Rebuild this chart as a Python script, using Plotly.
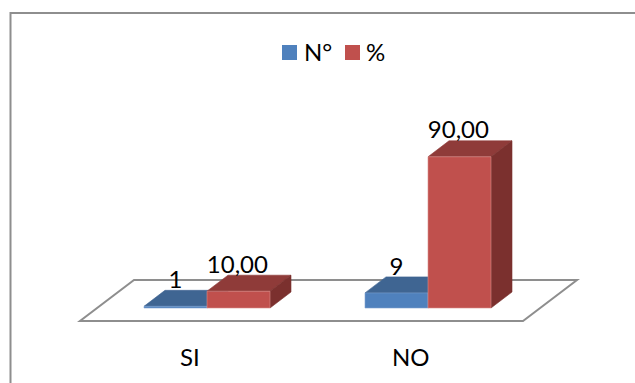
import plotly.graph_objects as go

categories = ["SI", "NO"]
count_values = [1, 9]
percent_values = [10.00, 90.00]
count_labels = ["1", "9"]
percent_labels = ["10,00", "90,00"]

WIDTH, HEIGHT = 635, 383
PX_PER_CATEGORY = 221.0   # horizontal distance between category groups
PX_PER_UNIT = 1.68        # vertical pixels per value unit
ORIGIN_X, ORIGIN_Y = 207.0, 308.0  # pixel position of category 0, value 0

BAR_W = 63 / PX_PER_CATEGORY
DEPTH_X = 21 / PX_PER_CATEGORY
DEPTH_Y = 16 / PX_PER_UNIT

x_range = [(0 - ORIGIN_X) / PX_PER_CATEGORY, (WIDTH - ORIGIN_X) / PX_PER_CATEGORY]
y_range = [(ORIGIN_Y - HEIGHT) / PX_PER_UNIT, ORIGIN_Y / PX_PER_UNIT]

FLOOR_L, FLOOR_R = (80 - ORIGIN_X) / PX_PER_CATEGORY, (523 - ORIGIN_X) / PX_PER_CATEGORY
FLOOR_FRONT = (308 - 321) / PX_PER_UNIT
FLOOR_DX, FLOOR_DY = 54 / PX_PER_CATEGORY, 41 / PX_PER_UNIT

BLUE = dict(front="#4F81BD", top="#3F6592", side="#355579", edge="#7FA3D0")
RED = dict(front="#C0504D", top="#8F3B39", side="#7B302E", edge="#D98F8C")
GREY = "#8E8E8E"
FONT = "Lato, Carlito, Calibri, sans-serif"
TEXT_SIZE = 24


def to_x(px):
    return (px - ORIGIN_X) / PX_PER_CATEGORY


def to_y(px):
    return (ORIGIN_Y - px) / PX_PER_UNIT


def face(xs, ys, color, edge):
    return go.Scatter(x=xs, y=ys, mode="lines", fill="toself", fillcolor=color,
                      line=dict(color=edge, width=0.6), hoverinfo="skip", showlegend=False)


def column(left, value, palette):
    """Front, top and side of one oblique box standing on the baseline."""
    right = left + BAR_W
    return [
        face([left, left + DEPTH_X, right + DEPTH_X, right, left],
             [value, value + DEPTH_Y, value + DEPTH_Y, value, value],
             palette["top"], palette["top"]),
        face([right, right + DEPTH_X, right + DEPTH_X, right, right],
             [0, DEPTH_Y, value + DEPTH_Y, value, 0],
             palette["side"], palette["side"]),
        face([left, right, right, left, left], [0, 0, value, value, 0],
             palette["front"], palette["edge"]),
    ]


fig = go.Figure()

# Boxes are added back to front so nearer faces cover farther ones.
for i in range(len(categories)):
    for tr in column(i - BAR_W, count_values[i], BLUE):
        fig.add_trace(tr)
    for tr in column(i, percent_values[i], RED):
        fig.add_trace(tr)

# Value labels sit a fixed distance above each box.
LABEL_LIFT = 14.5
fig.add_trace(go.Scatter(
    x=[i - BAR_W / 2 for i in range(len(categories))],
    y=[v + LABEL_LIFT for v in count_values],
    text=count_labels, mode="text", textposition="middle center",
    textfont=dict(family=FONT, size=TEXT_SIZE, color="#000000"),
    hoverinfo="skip", showlegend=False))
fig.add_trace(go.Scatter(
    x=[i + BAR_W / 2 - 0.005 for i in range(len(categories))],
    y=[v + LABEL_LIFT for v in percent_values],
    text=percent_labels, mode="text", textposition="middle center",
    textfont=dict(family=FONT, size=TEXT_SIZE, color="#000000"),
    hoverinfo="skip", showlegend=False))

# Key above the plot: one swatch and one caption per series.
for name, col, swatch_px, caption_px in (("N°", BLUE["front"], 289.5, 304),
                                         ("%", RED["front"], 352.5, 366)):
    fig.add_trace(go.Scatter(x=[to_x(swatch_px)], y=[to_y(52.5)], mode="markers", name=name,
                             marker=dict(symbol="square", size=15, color=col),
                             hoverinfo="skip", showlegend=False))
    fig.add_trace(go.Scatter(x=[to_x(caption_px)], y=[to_y(54.5)], mode="text", text=[name],
                             textposition="middle right",
                             textfont=dict(family=FONT, size=TEXT_SIZE, color="#000000"),
                             hoverinfo="skip", showlegend=False))

floor_x = [FLOOR_L, FLOOR_R, FLOOR_R + FLOOR_DX, FLOOR_L + FLOOR_DX, FLOOR_L]
floor_y = [FLOOR_FRONT, FLOOR_FRONT, FLOOR_FRONT + FLOOR_DY, FLOOR_FRONT + FLOOR_DY, FLOOR_FRONT]
floor_path = "M " + " L ".join(f"{a},{b}" for a, b in zip(floor_x, floor_y)) + " Z"

fig.update_layout(
    width=WIDTH, height=HEIGHT,
    margin=dict(l=0, r=0, t=0, b=0),
    paper_bgcolor="#FFFFFF", plot_bgcolor="#FFFFFF",
    font=dict(family=FONT, size=TEXT_SIZE, color="#000000"),
    hovermode=False,
    showlegend=False,
    xaxis=dict(range=x_range, showgrid=False, zeroline=False, showline=False,
               visible=False, fixedrange=True),
    yaxis=dict(range=y_range, showgrid=False, zeroline=False, showline=False,
               visible=False, fixedrange=True),
    shapes=[
        dict(type="path", path=floor_path, xref="x", yref="y", layer="below",
             line=dict(color=GREY, width=2), fillcolor="#FFFFFF"),
        dict(type="rect", xref="paper", yref="paper", layer="below",
             x0=10.5 / WIDTH, x1=1.05, y0=-0.1, y1=1 - 13 / HEIGHT,
             line=dict(color=GREY, width=2), fillcolor="rgba(0,0,0,0)"),
    ],
    annotations=[
        dict(x=i, y=to_y(356), xshift=-17.5, text=c, showarrow=False,
             xref="x", yref="y", font=dict(family=FONT, size=TEXT_SIZE, color="#000000"))
        for i, c in enumerate(categories)
    ],
)

fig.write_html("out.html", config={"displayModeBar": False})
